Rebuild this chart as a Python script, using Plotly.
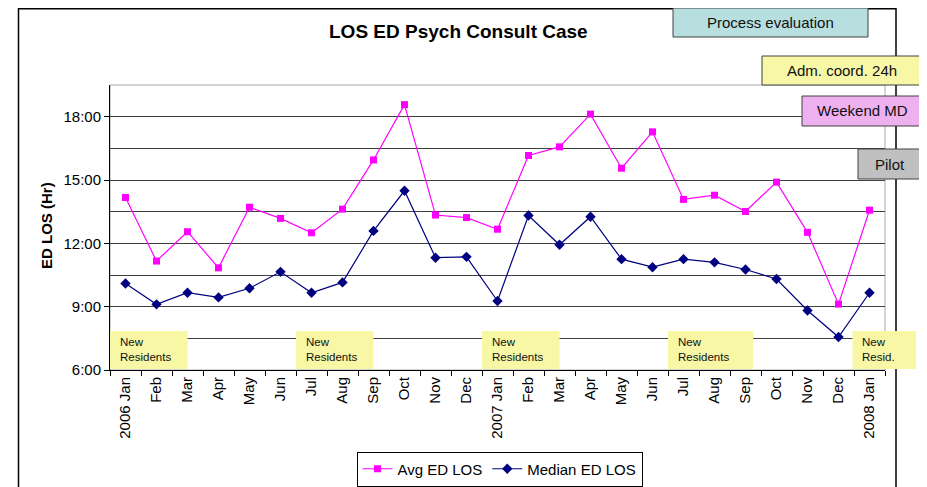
import plotly.graph_objects as go

# ---- data ----
month_labels = ["2006 Jan", "Feb", "Mar", "Apr", "May", "Jun", "Jul", "Aug", "Sep", "Oct", "Nov", "Dec",
                "2007 Jan", "Feb", "Mar", "Apr", "May", "Jun", "Jul", "Aug", "Sep", "Oct", "Nov", "Dec",
                "2008 Jan"]
avg_ed_los = [14.17, 11.16, 12.55, 10.84, 13.71, 13.18, 12.50, 13.62, 15.95, 18.57, 13.34, 13.22,
              12.67, 16.16, 16.57, 18.12, 15.56, 17.28, 14.08, 14.28, 13.51, 14.90, 12.52, 9.12,
              13.57]
median_ed_los = [10.10, 9.11, 9.66, 9.44, 9.87, 10.65, 9.66, 10.15, 12.59, 14.49, 11.32, 11.36,
                 9.27, 13.32, 11.93, 13.26, 11.25, 10.87, 11.25, 11.10, 10.76, 10.31, 8.82, 7.56,
                 9.66]
y_tick_vals = [6, 9, 12, 15, 18]
y_tick_text = ["6:00", "9:00", "12:00", "15:00", "18:00"]

# New residents labels: (text, start month index, span in months)
resident_texts = ["New<br>Residents", "New<br>Residents", "New<br>Residents", "New<br>Residents", "New<br>Resid."]
resident_start = [0, 6, 12, 18, 24]
resident_span = [2.5, 2.5, 2.5, 2.75, 2.05]

# Intervention boxes
intervention_texts = ["Process evaluation", "Adm. coord. 24h", "Weekend MD", "Pilot"]

FONT = "Arial, Liberation Sans, sans-serif"

x = list(range(len(month_labels)))
n_cat = len(month_labels)

fig = go.Figure()
fig.add_trace(go.Scatter(
    x=x, y=avg_ed_los, name="Avg ED LOS", mode="lines+markers",
    line=dict(color="#FF00FF", width=1.2),
    marker=dict(symbol="square", size=7, color="#FF00FF"),
))
fig.add_trace(go.Scatter(
    x=x, y=median_ed_los, name="Median ED LOS", mode="lines+markers",
    line=dict(color="#000080", width=1.2),
    marker=dict(symbol="diamond", size=8, color="#000080"),
))

# screen-pixel -> paper coordinate helpers (plot area spans x 110..885, y 85..370 on screen)
def px(v):
    return (v - 110) / 775

def py(v):
    return (370 - v) / 285

def cat_to_paper(v):
    # category index -> paper x (axis range is -0.5 .. n_cat-0.5)
    return (v + 0.5) / n_cat

# plot-area border (gray)
fig.add_shape(type="rect", xref="paper", yref="paper", x0=0, x1=1, y0=0, y1=1,
              line=dict(color="#A8A8A8", width=1), layer="below")

# chart border (black)
fig.add_shape(type="rect", xref="paper", yref="paper",
              x0=px(18.5), x1=px(896), y0=-0.6, y1=py(8.8),
              line=dict(color="black", width=1.5), layer="above")

# New residents boxes
for txt, s, w in zip(resident_texts, resident_start, resident_span):
    x0 = s - 0.5 if s < 24 else s - 0.55
    fig.add_shape(type="rect", xref="paper", yref="y",
                  x0=cat_to_paper(x0), x1=cat_to_paper(x0 + w), y0=6.05, y1=7.85,
                  fillcolor="#F7F7A6", line=dict(width=0), layer="above")
    fig.add_annotation(x=cat_to_paper(x0), y=6.95, xref="paper", yref="y", text=txt, showarrow=False,
                       xanchor="left", yanchor="middle", xshift=8, align="left",
                       font=dict(family=FONT, size=11.5, color="#111111"))

boxes = [
    (673, 868, 8, 37, "#B7DFE0"),
    (762, 922, 56, 85, "#F7F7A6"),
    (802, 922, 96, 126, "#EEB0EE"),
    (858, 921, 149, 179, "#C0C0C0"),
]
for txt, (bx0, bx1, by0, by1, col) in zip(intervention_texts, boxes):
    fig.add_shape(type="rect", xref="paper", yref="paper",
                  x0=px(bx0), x1=px(bx1), y0=py(by1), y1=py(by0),
                  fillcolor=col, line=dict(color="#404040", width=1), layer="above")
    fig.add_annotation(xref="paper", yref="paper", x=px((bx0 + bx1) / 2), y=py((by0 + by1) / 2),
                       text=txt, showarrow=False, xanchor="center", yanchor="middle",
                       font=dict(family=FONT, size=15, color="#111111"))

# Title
fig.add_annotation(xref="paper", yref="paper", x=px(458.5), y=py(31), text="<b>LOS ED Psych Consult Case</b>",
                   showarrow=False, xanchor="center", yanchor="middle",
                   font=dict(family=FONT, size=19, color="black"))
# Y axis title
fig.add_annotation(xref="paper", yref="paper", x=px(46), y=py(226), text="<b>ED LOS (Hr)</b>",
                   showarrow=False, xanchor="center", yanchor="middle", textangle=-90,
                   font=dict(family=FONT, size=15, color="black"))

# The page body has an 8px margin: figure origin sits at screen (8, 8)
fig.update_layout(
    width=919, height=479,
    margin=dict(l=102, r=42, t=77, b=117, autoexpand=False),
    paper_bgcolor="white", plot_bgcolor="white",
    font=dict(family=FONT, size=15, color="black"),
    showlegend=True,
    legend=dict(orientation="h", x=px(499.5), xanchor="center", y=py(486.5), yanchor="bottom",
                bordercolor="black", borderwidth=1, font=dict(family=FONT, size=15),
                itemwidth=30, tracegroupgap=0),
    xaxis=dict(
        range=[-0.5, n_cat - 0.5], tickmode="array", tickvals=x, ticktext=month_labels,
        tickangle=-90, ticks="", showgrid=False, zeroline=False,
        showline=True, linecolor="black", linewidth=1,
        tickfont=dict(family=FONT, size=15, color="black"),
        minor=dict(tick0=-0.5, dtick=1, ticks="outside", ticklen=5, tickcolor="black", showgrid=False),
        fixedrange=True, automargin=False,
    ),
    yaxis=dict(
        range=[6, 19.5], tickmode="array", tickvals=y_tick_vals, ticktext=y_tick_text,
        ticks="outside", ticklen=5, tickcolor="black",
        showgrid=True, gridcolor="#404040", gridwidth=1, zeroline=False,
        showline=True, linecolor="black", linewidth=1,
        tickfont=dict(family=FONT, size=15, color="black"),
        minor=dict(tick0=6, dtick=1.5, showgrid=True, gridcolor="#404040", gridwidth=1, ticks=""),
        fixedrange=True, automargin=False,
    ),
)

fig.write_html("out.html")
